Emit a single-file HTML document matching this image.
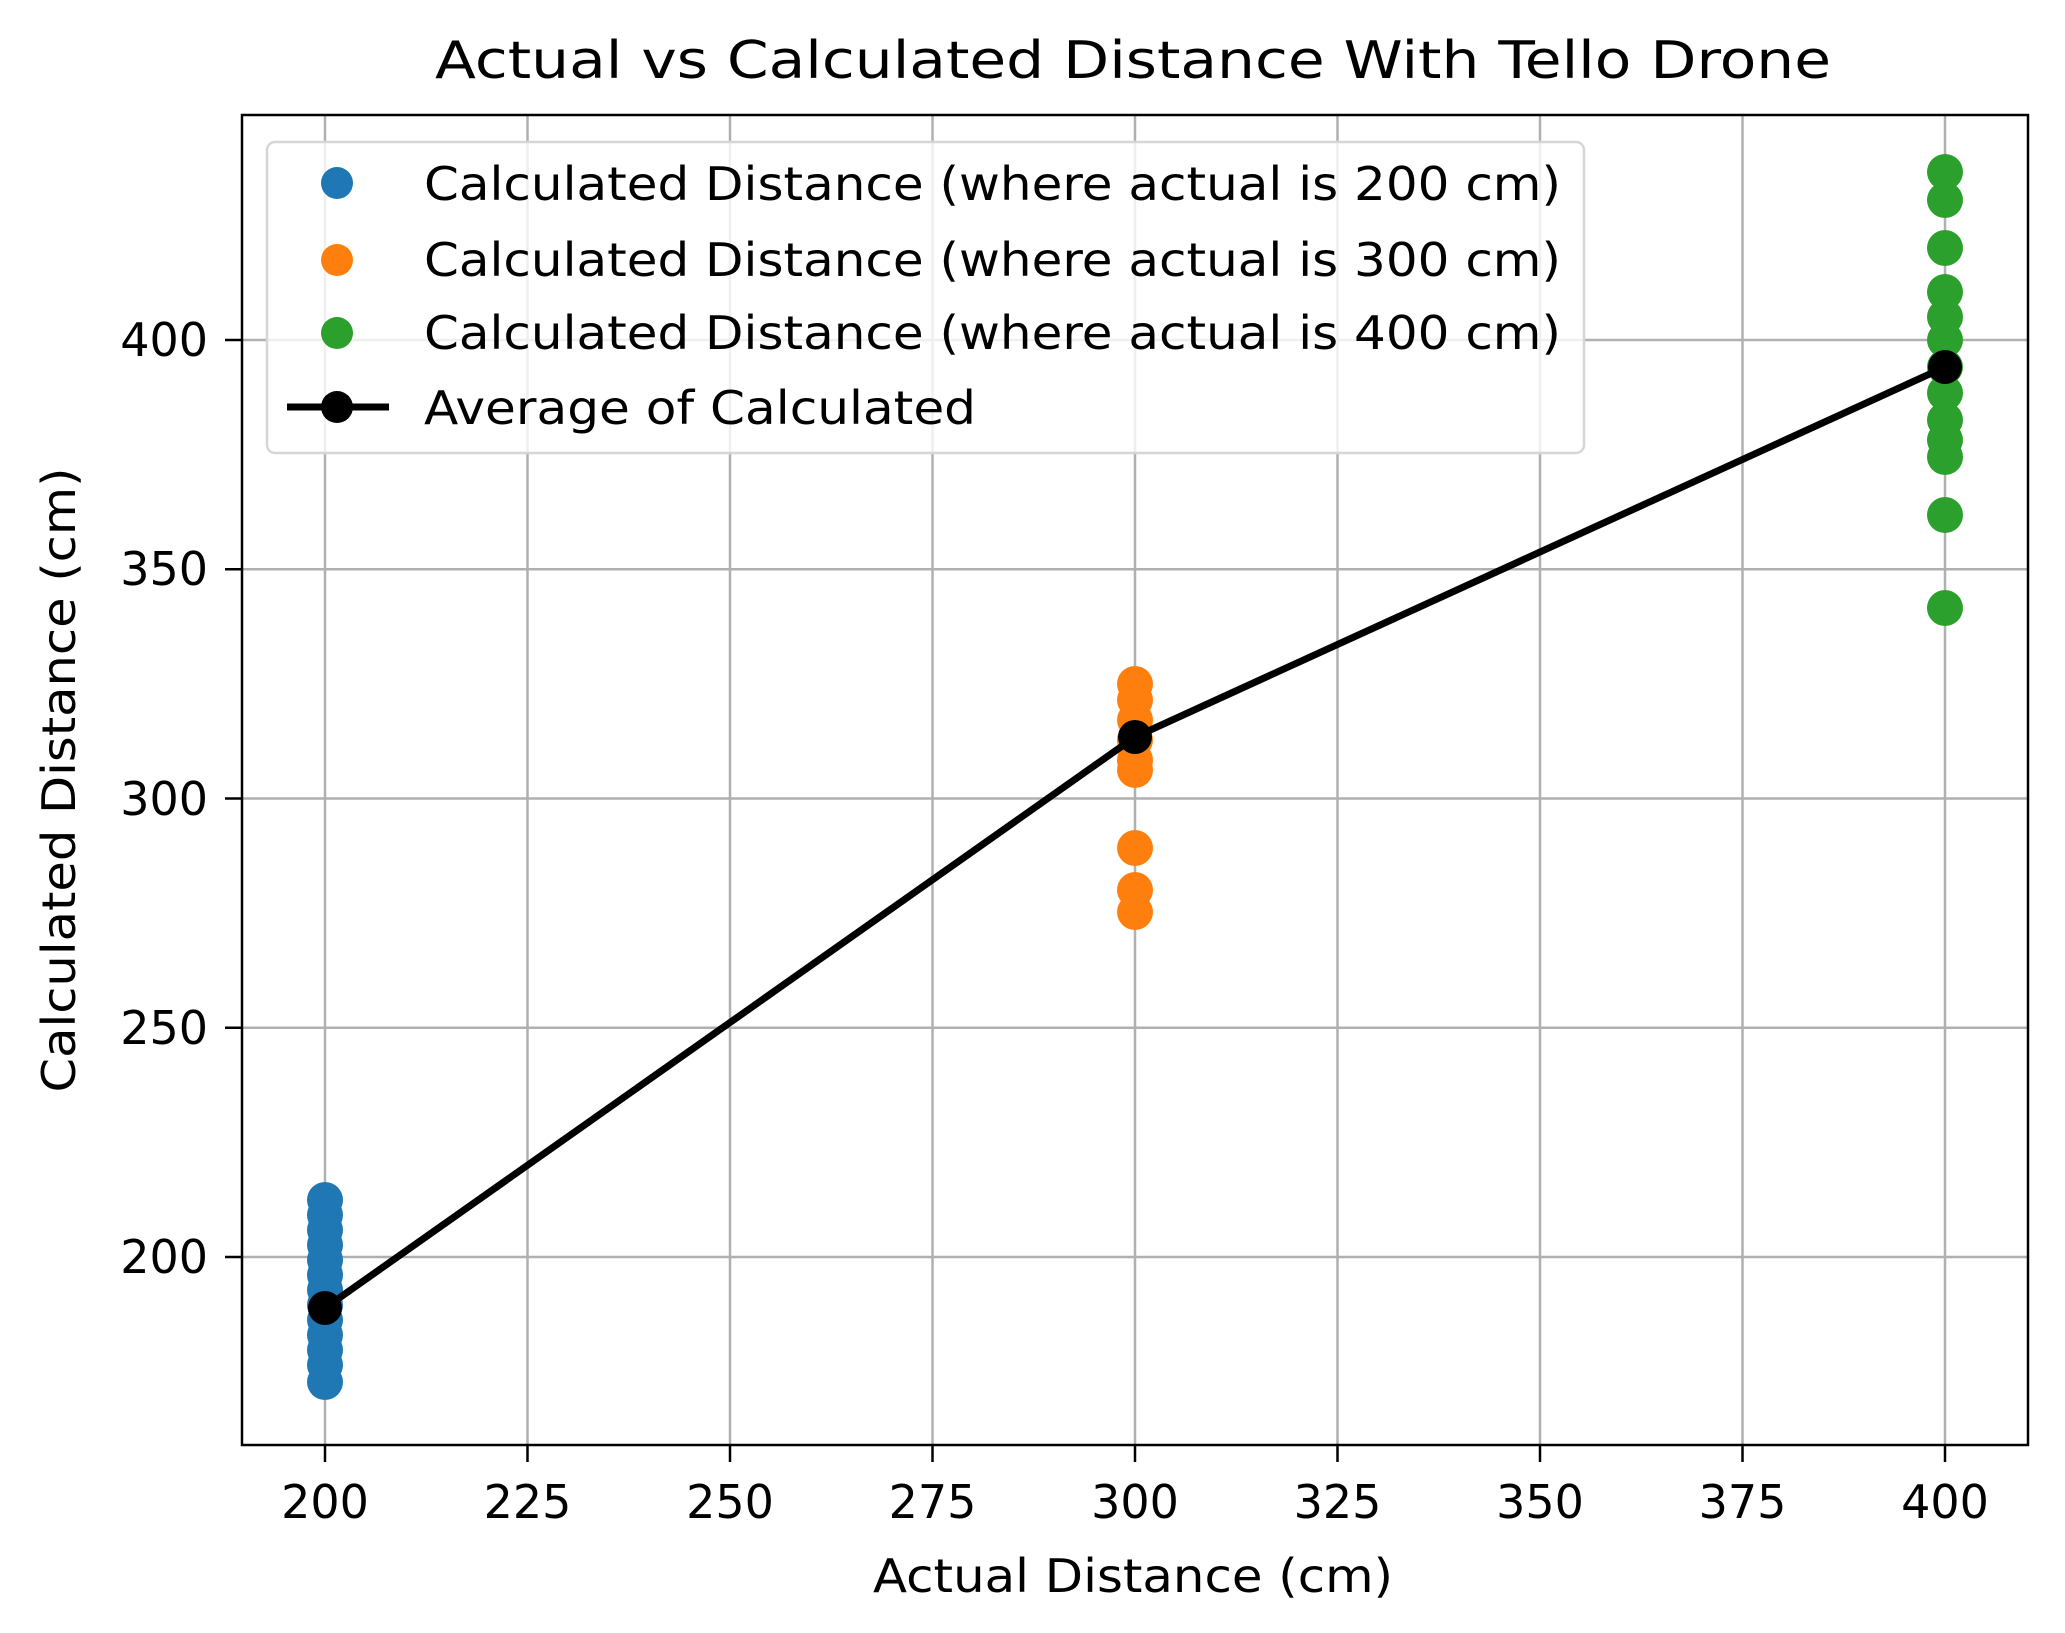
<!DOCTYPE html>
<html><head><meta charset="utf-8"><style>
html,body{margin:0;padding:0;background:#fff;}
svg{display:block;font-family:"DejaVu Sans","Liberation Sans",sans-serif;}
</style></head><body>
<svg width="2065" height="1633" viewBox="0 0 2065 1633" xmlns="http://www.w3.org/2000/svg">
<rect width="2065" height="1633" fill="#fff"/>
<g stroke="#b0b0b0" stroke-width="2.5">
<line x1="325" y1="115" x2="325" y2="1445"/>
<line x1="527.5" y1="115" x2="527.5" y2="1445"/>
<line x1="730" y1="115" x2="730" y2="1445"/>
<line x1="932.5" y1="115" x2="932.5" y2="1445"/>
<line x1="1135" y1="115" x2="1135" y2="1445"/>
<line x1="1337.5" y1="115" x2="1337.5" y2="1445"/>
<line x1="1540" y1="115" x2="1540" y2="1445"/>
<line x1="1742.5" y1="115" x2="1742.5" y2="1445"/>
<line x1="1945" y1="115" x2="1945" y2="1445"/>
<line x1="242" y1="1257" x2="2028" y2="1257"/>
<line x1="242" y1="1027.75" x2="2028" y2="1027.75"/>
<line x1="242" y1="798.5" x2="2028" y2="798.5"/>
<line x1="242" y1="569.25" x2="2028" y2="569.25"/>
<line x1="242" y1="340" x2="2028" y2="340"/>
</g>
<g fill="#1f77b4">
<circle cx="325" cy="1200" r="18"/><circle cx="325" cy="1215" r="18"/><circle cx="325" cy="1230" r="18"/><circle cx="325" cy="1245" r="18"/><circle cx="325" cy="1260" r="18"/><circle cx="325" cy="1275" r="18"/><circle cx="325" cy="1290" r="18"/><circle cx="325" cy="1305" r="18"/><circle cx="325" cy="1320" r="18"/><circle cx="325" cy="1335" r="18"/><circle cx="325" cy="1350" r="18"/><circle cx="325" cy="1365" r="18"/><circle cx="325" cy="1382" r="18"/>
</g>
<g fill="#ff7f0e">
<circle cx="1135" cy="684" r="18"/><circle cx="1135" cy="700" r="18"/><circle cx="1135" cy="720" r="18"/><circle cx="1135" cy="740" r="18"/><circle cx="1135" cy="760" r="18"/><circle cx="1135" cy="770" r="18"/><circle cx="1135" cy="848" r="18"/><circle cx="1135" cy="890" r="18"/><circle cx="1135" cy="912" r="18"/>
</g>
<g fill="#2ca02c">
<circle cx="1945" cy="172" r="18"/><circle cx="1945" cy="200" r="18"/><circle cx="1945" cy="248" r="18"/><circle cx="1945" cy="292" r="18"/><circle cx="1945" cy="317" r="18"/><circle cx="1945" cy="340" r="18"/><circle cx="1945" cy="367" r="18"/><circle cx="1945" cy="393" r="18"/><circle cx="1945" cy="420" r="18"/><circle cx="1945" cy="440" r="18"/><circle cx="1945" cy="457" r="18"/><circle cx="1945" cy="515" r="18"/><circle cx="1945" cy="608" r="18"/>
</g>
<polyline points="325,1308 1135,737 1945,367" fill="none" stroke="#000" stroke-width="7" stroke-linejoin="round"/>
<circle cx="325" cy="1308" r="17" fill="#000"/>
<circle cx="1135" cy="737" r="17" fill="#000"/>
<circle cx="1945" cy="367" r="17" fill="#000"/>
<rect x="242" y="115" width="1786" height="1330" fill="none" stroke="#000" stroke-width="2.5"/>
<g stroke="#000" stroke-width="2.5">
<line x1="325" y1="1445" x2="325" y2="1462"/><line x1="527.5" y1="1445" x2="527.5" y2="1462"/><line x1="730" y1="1445" x2="730" y2="1462"/><line x1="932.5" y1="1445" x2="932.5" y2="1462"/><line x1="1135" y1="1445" x2="1135" y2="1462"/><line x1="1337.5" y1="1445" x2="1337.5" y2="1462"/><line x1="1540" y1="1445" x2="1540" y2="1462"/><line x1="1742.5" y1="1445" x2="1742.5" y2="1462"/><line x1="1945" y1="1445" x2="1945" y2="1462"/>
<line x1="225" y1="1257" x2="242" y2="1257"/><line x1="225" y1="1027.75" x2="242" y2="1027.75"/><line x1="225" y1="798.5" x2="242" y2="798.5"/><line x1="225" y1="569.25" x2="242" y2="569.25"/><line x1="225" y1="340" x2="242" y2="340"/>
</g>
<g font-size="46" fill="#000" text-anchor="middle">
<text x="325" y="1518">200</text><text x="527.5" y="1518">225</text><text x="730" y="1518">250</text><text x="932.5" y="1518">275</text><text x="1135" y="1518">300</text><text x="1337.5" y="1518">325</text><text x="1540" y="1518">350</text><text x="1742.5" y="1518">375</text><text x="1945" y="1518">400</text>
</g>
<g font-size="46" fill="#000" text-anchor="end">
<text x="208" y="1273">200</text><text x="208" y="1044">250</text><text x="208" y="815">300</text><text x="208" y="585">350</text><text x="208" y="356">400</text>
</g>
<text x="1133" y="78" font-size="52" text-anchor="middle" textLength="1396" lengthAdjust="spacingAndGlyphs">Actual vs Calculated Distance With Tello Drone</text>
<text x="1133" y="1592" font-size="46" text-anchor="middle" textLength="520" lengthAdjust="spacingAndGlyphs">Actual Distance (cm)</text>
<text transform="translate(75,780) rotate(-90)" font-size="46" text-anchor="middle" textLength="625" lengthAdjust="spacingAndGlyphs">Calculated Distance (cm)</text>
<rect x="267" y="142" width="1317" height="311" rx="8" fill="#fff" fill-opacity="0.8" stroke="#d6d6d6" stroke-width="2.5"/>
<circle cx="337" cy="183" r="16" fill="#1f77b4"/>
<circle cx="337" cy="260" r="16" fill="#ff7f0e"/>
<circle cx="337" cy="333" r="16" fill="#2ca02c"/>
<line x1="287" y1="407" x2="389" y2="407" stroke="#000" stroke-width="7"/>
<circle cx="337" cy="407" r="16" fill="#000"/>
<g font-size="46" fill="#000">
<text x="424" y="200" textLength="1137" lengthAdjust="spacingAndGlyphs">Calculated Distance (where actual is 200 cm)</text>
<text x="424" y="276" textLength="1137" lengthAdjust="spacingAndGlyphs">Calculated Distance (where actual is 300 cm)</text>
<text x="424" y="349" textLength="1137" lengthAdjust="spacingAndGlyphs">Calculated Distance (where actual is 400 cm)</text>
<text x="424" y="424" textLength="552" lengthAdjust="spacingAndGlyphs">Average of Calculated</text>
</g>
</svg>
</body></html>
